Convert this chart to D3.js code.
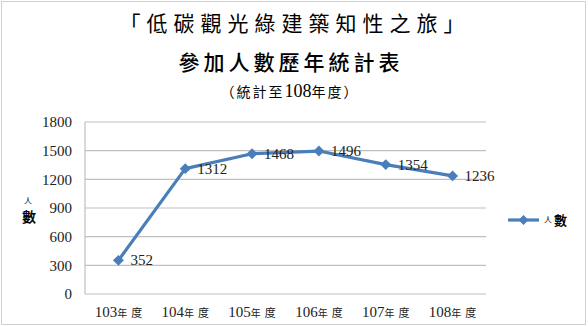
<!DOCTYPE html>
<html>
<head>
<meta charset="utf-8">
<script src="https://cdn.jsdelivr.net/npm/d3@7"></script>
<style>
  body { margin: 0; background: #fff; }
  svg { display: block; }
  .num { font-family: "Liberation Serif", "DejaVu Serif", serif; }
  .cjk { font-family: "Noto Sans CJK TC", "Noto Sans CJK SC", sans-serif; }
</style>
</head>
<body>
<svg width="588" height="326"></svg>
<script>
// chart values
const years = ["103", "104", "105", "106", "107", "108"];
const visitors = [352, 1312, 1468, 1496, 1354, 1236];
const yTicks = [0, 300, 600, 900, 1200, 1500, 1800];
const titleLines = ["「低碳觀光綠建築知性之旅」", "參加人數歷年統計表"];
const subtitle = ["（統計至", "108", "年度）"];
const seriesName = "人數";

const svg = d3.select("svg");
const width = +svg.attr("width");
const height = +svg.attr("height");
const blue = "#4a7ebb";

svg.append("rect")
  .attr("x", 1.5).attr("y", 1.5)
  .attr("width", width - 4).attr("height", height - 3)
  .attr("fill", "none").attr("stroke", "#d0d0d0");

const plot = { left: 85, right: 486, top: 122, bottom: 294 };

const x = d3.scaleBand().domain(years).range([plot.left, plot.right]);
const y = d3.scaleLinear().domain([0, 1800]).range([plot.bottom, plot.top]);

// titles
svg.append("text").attr("class", "cjk")
  .attr("x", 295).attr("y", 31).attr("text-anchor", "middle")
  .attr("font-size", 21).attr("letter-spacing", 6)
  .text(titleLines[0]);
svg.append("text").attr("class", "cjk")
  .attr("x", 291).attr("y", 70).attr("text-anchor", "middle")
  .attr("font-size", 21).attr("font-weight", 500).attr("letter-spacing", 4)
  .text(titleLines[1]);
const sub = svg.append("text")
  .attr("x", 290).attr("y", 97).attr("text-anchor", "middle");
sub.append("tspan").attr("class", "cjk").attr("font-size", 14).attr("letter-spacing", 2).text(subtitle[0]);
sub.append("tspan").attr("class", "num").attr("font-size", 18).text(subtitle[1]);
sub.append("tspan").attr("class", "cjk").attr("font-size", 14).attr("letter-spacing", 2).text(subtitle[2]);

// gridlines
svg.append("g")
  .selectAll("line")
  .data(yTicks)
  .join("line")
  .attr("x1", plot.left).attr("x2", plot.right)
  .attr("y1", d => y(d)).attr("y2", d => y(d))
  .attr("stroke", "#bfbfbf").attr("stroke-width", 1.2);

svg.append("line")
  .attr("x1", plot.left).attr("x2", plot.left)
  .attr("y1", plot.top).attr("y2", plot.bottom)
  .attr("stroke", "#bfbfbf").attr("stroke-width", 1.2);

// y axis
const yAxis = svg.append("g")
  .attr("transform", `translate(${plot.left - 13},0)`)
  .call(d3.axisLeft(y).tickValues(yTicks).tickFormat(d3.format("d")).tickSize(0).tickPadding(0));
yAxis.select(".domain").remove();
yAxis.selectAll("text")
  .attr("class", "num").attr("font-size", 15).attr("fill", "#222");

// x axis
const xAxis = svg.append("g")
  .attr("transform", `translate(0,${plot.bottom})`)
  .call(d3.axisBottom(x).tickSize(0).tickFormat(""));
xAxis.select(".domain").remove();
xAxis.selectAll(".tick").each(function(d) {
  const t = d3.select(this).append("text")
    .attr("y", 23).attr("text-anchor", "middle").attr("fill", "#222");
  t.append("tspan").attr("class", "num").attr("font-size", 15).text(d);
  t.append("tspan").attr("class", "cjk").attr("font-size", 10).text("年");
  t.append("tspan").attr("class", "cjk").attr("font-size", 11).attr("dx", 4).text("度");
});

// y axis title, stacked
svg.append("text").attr("class", "cjk")
  .attr("x", 28).attr("y", 204).attr("text-anchor", "middle")
  .attr("font-size", 8).text(seriesName[0]);
svg.append("text").attr("class", "cjk")
  .attr("x", 29).attr("y", 222).attr("text-anchor", "middle")
  .attr("font-size", 14).attr("font-weight", "bold").text(seriesName[1]);

// series
const pts = years.map((yr, i) => ({ yr, v: visitors[i] }));
const cx = d => x(d.yr) + x.bandwidth() / 2;

svg.append("path")
  .datum(pts)
  .attr("fill", "none").attr("stroke", blue).attr("stroke-width", 3.2)
  .attr("stroke-linejoin", "round")
  .attr("d", d3.line().x(cx).y(d => y(d.v)));

svg.append("g")
  .selectAll("path")
  .data(pts)
  .join("path")
  .attr("transform", d => `translate(${cx(d)},${y(d.v)}) rotate(45)`)
  .attr("d", d3.symbol().type(d3.symbolSquare).size(60))
  .attr("fill", blue);

svg.append("g")
  .selectAll("text")
  .data(pts)
  .join("text")
  .attr("class", "num")
  .attr("x", d => cx(d) + 12).attr("y", d => y(d.v) + 5)
  .attr("font-size", 15).attr("fill", "#222")
  .text(d => d.v);

// legend
const lg = svg.append("g").attr("transform", "translate(508,220)");
lg.append("line").attr("x1", 0).attr("x2", 31)
  .attr("stroke", blue).attr("stroke-width", 3.2);
lg.append("path").attr("transform", "translate(15.5,0) rotate(45)")
  .attr("d", d3.symbol().type(d3.symbolSquare).size(50)).attr("fill", blue);
lg.append("text").attr("class", "cjk").attr("x", 36).attr("y", 3)
  .attr("font-size", 8).text(seriesName[0]);
lg.append("text").attr("class", "cjk").attr("x", 46).attr("y", 5)
  .attr("font-size", 13).attr("font-weight", "bold").text(seriesName[1]);
</script>
</body>
</html>
